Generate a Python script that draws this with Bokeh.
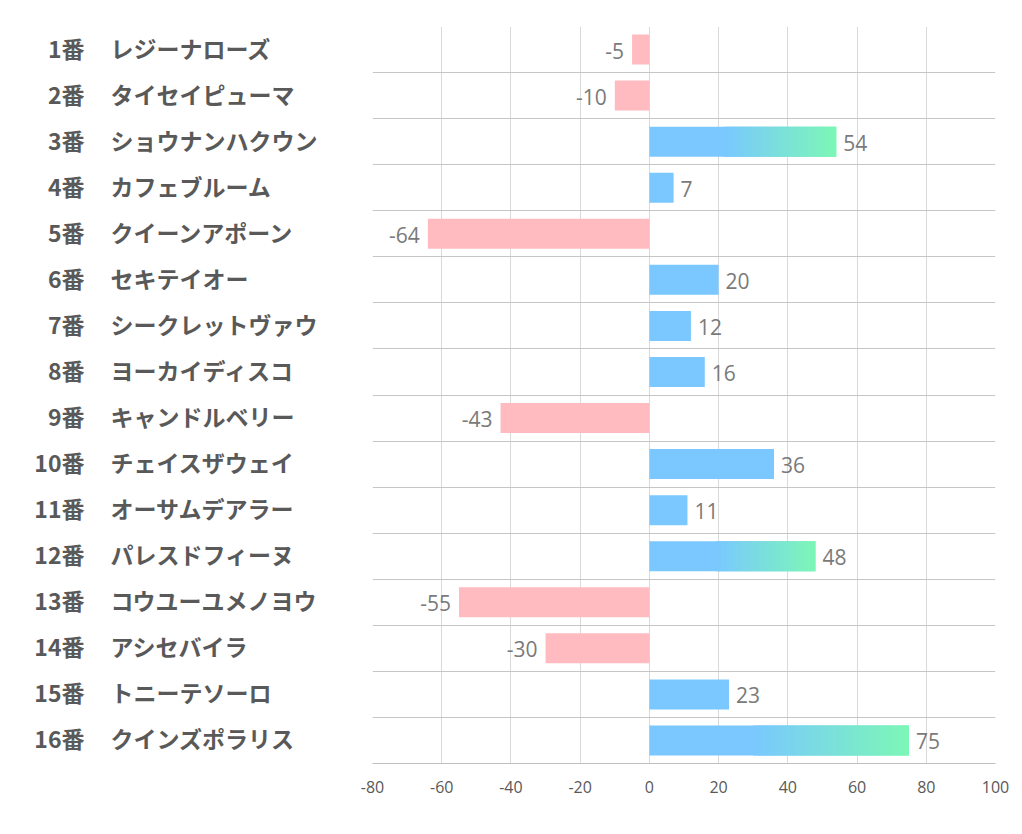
from bokeh.plotting import figure
from bokeh.models import Range1d, FixedTicker
from bokeh.layouts import row
from bokeh.core.properties import value
from bokeh.embed import file_html
from bokeh.resources import INLINE

numbers = ["1番", "2番", "3番", "4番", "5番", "6番", "7番", "8番",
           "9番", "10番", "11番", "12番", "13番", "14番", "15番", "16番"]
names = ["レジーナローズ", "タイセイピューマ", "ショウナンハクウン", "カフェブルーム",
         "クイーンアポーン", "セキテイオー", "シークレットヴァウ", "ヨーカイディスコ",
         "キャンドルベリー", "チェイスザウェイ", "オーサムデアラー", "パレスドフィーヌ",
         "コウユーユメノヨウ", "アシセバイラ", "トニーテソーロ", "クインズポラリス"]
values = [-5, -10, 54, 7, -64, 20, 12, 16, -43, 36, 11, 48, -55, -30, 23, 75]
x_ticks = [-80, -60, -40, -20, 0, 20, 40, 60, 80, 100]

BLUE = (122, 200, 255)
GREEN = (124, 247, 182)
PINK = "#ffbbbf"
n = len(values)
ys = [n - 0.5 - i for i in range(n)]

H = 818
TOP = 26
BOT = 55
LEFT_W = 352

# ---- main chart
p = figure(width=662, height=H, x_range=Range1d(-80, 100), y_range=Range1d(0, n),
           output_backend="svg", toolbar_location=None,
           min_border_left=20, min_border_right=19, min_border_top=TOP, min_border_bottom=BOT)
p.outline_line_color = None
p.yaxis.visible = False
p.xaxis.ticker = FixedTicker(ticks=x_ticks)
p.xaxis.major_label_overrides = {t: str(t) for t in x_ticks}
p.xgrid.ticker = FixedTicker(ticks=x_ticks)
p.xgrid.grid_line_color = "#d9d9d9"
p.ygrid.ticker = FixedTicker(ticks=list(range(0, n + 1)))
p.ygrid.grid_line_color = "#c6c6c6"
p.xaxis.axis_line_color = "#bfbfbf"
p.xaxis.major_tick_line_color = None
p.xaxis.minor_tick_line_color = None
p.xaxis.major_label_standoff = 11
p.xaxis.major_label_text_font = "Open Sans"
p.xaxis.major_label_text_font_size = "16px"
p.xaxis.major_label_text_color = "#595959"

bh = 0.65
hexc = lambda c: "#%02x%02x%02x" % tuple(int(round(v)) for v in c)

l, r, b, t, col = [], [], [], [], []
for v, y in zip(values, ys):
    if v < 0:
        l.append(v); r.append(0); col.append(PINK)
        b.append(y - bh / 2); t.append(y + bh / 2)
    elif v >= 40:
        start = v * 0.4
        steps = 60
        w = (v - start) / steps
        l.append(0); r.append(start + w); col.append(hexc(BLUE))
        b.append(y - bh / 2); t.append(y + bh / 2)
        for k in range(steps):
            f = (k + 0.5) / steps
            c = [BLUE[j] + (GREEN[j] - BLUE[j]) * f for j in range(3)]
            x0 = start + w * k
            l.append(x0); r.append(min(x0 + 2.5 * w, v)); col.append(hexc(c))
            b.append(y - bh / 2); t.append(y + bh / 2)
    else:
        l.append(0); r.append(v); col.append(hexc(BLUE))
        b.append(y - bh / 2); t.append(y + bh / 2)

p.quad(left=l, right=r, bottom=b, top=t, fill_color=col, line_color=None)

pos = [i for i, v in enumerate(values) if v >= 0]
neg = [i for i, v in enumerate(values) if v < 0]
p.text(x=[values[i] for i in pos], y=[ys[i] for i in pos], text=[str(values[i]) for i in pos],
       x_offset=7, y_offset=1, text_align="left", text_baseline="middle",
       text_font=value("Open Sans"), text_font_size="21px", text_color="#7a7a7a")
p.text(x=[values[i] for i in neg], y=[ys[i] for i in neg], text=[str(values[i]) for i in neg],
       x_offset=-8, y_offset=1, text_align="right", text_baseline="middle",
       text_font=value("Open Sans"), text_font_size="21px", text_color="#7a7a7a")

# ---- left label panel
q = figure(width=LEFT_W, height=H, x_range=Range1d(0, LEFT_W), y_range=p.y_range,
           output_backend="svg", toolbar_location=None,
           min_border_left=0, min_border_right=0, min_border_top=TOP, min_border_bottom=BOT)
q.outline_line_color = None
q.axis.visible = False
q.grid.visible = False
q.text(x=[84] * n, y=ys, text=numbers, text_align="right", text_baseline="middle",
       y_offset=-2,
       text_font=value("Noto Sans CJK JP"), text_font_style="bold", text_font_size="23px",
       text_color="#595959")
q.text(x=[110] * n, y=ys, text=names, text_align="left", text_baseline="middle",
       y_offset=-2,
       text_font=value("Noto Sans CJK JP"), text_font_style="bold", text_font_size="23px",
       text_color="#595959")

layout = row(q, p)
open("out.html", "w").write(file_html(layout, INLINE))
